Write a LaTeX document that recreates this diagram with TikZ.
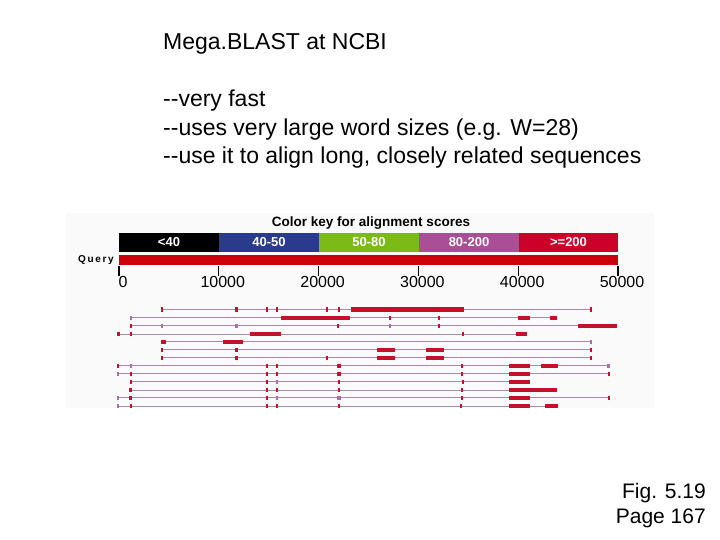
\documentclass[tikz,border=0pt]{standalone}
\usepackage{fontspec}
\setmainfont{Liberation Sans}
\definecolor{kblue}{RGB}{42,58,140}
\definecolor{kgreen}{RGB}{124,186,24}
\definecolor{kpurp}{RGB}{170,78,150}
\definecolor{kred}{RGB}{204,0,40}
\definecolor{qred}{RGB}{204,0,10}
\definecolor{hred}{RGB}{196,16,40}
\definecolor{hline}{RGB}{165,140,175}
\definecolor{hpur}{RGB}{170,110,170}
\tikzset{
 txt/.style={anchor=west,inner sep=0pt,font=\fontsize{23}{27}\selectfont},
 keybox/.style={inner sep=0pt,text=white,font=\bfseries\fontsize{13}{15}\selectfont},
 tick/.style={anchor=north,inner sep=0pt,font=\fontsize{16}{18}\selectfont},
}
\newcommand{\hrow}[4]{% y, start, end, list of segments a/b/color
 \draw[hline,line width=1pt] (#2,#1) -- (#3,#1);
 \foreach \a/\b/\c in {#4} {\fill[\c] (\a,#1-2.2) rectangle (\b,#1+2.2);}
}
\begin{document}
\begin{tikzpicture}[x=1pt,y=-1pt]
\useasboundingbox (0,0) rectangle (720,540);
\node[txt] (t) at (163,44) {Mega.BLAST at NCBI};
\node[txt] (l1) at (163,101) {-{}-very fast};
\node[txt] (l2) at (163,130) {-{}-uses very large word sizes (e.g. W=28)};
\node[txt] (l3) at (163,158) {-{}-use it to align long, closely related sequences};
\node[anchor=east,inner sep=0pt,align=right,font=\fontsize{21}{25}\selectfont] (fig) at (706,506) {Fig. 5.19\\Page 167};
\fill[black!2] (66,213) rectangle (654,408);
\node[inner sep=0pt,font=\bfseries\fontsize{13.5}{15}\selectfont] (ck) at (371,223) {Color key for alignment scores};
\node[keybox,fill=black,minimum width=100pt,minimum height=19pt] (k1) at (169,242.5) {<40};
\node[keybox,fill=kblue,minimum width=100pt,minimum height=19pt] (k2) at (269,242.5) {40-50};
\node[keybox,fill=kgreen,minimum width=100pt,minimum height=19pt] (k3) at (369,242.5) {50-80};
\node[keybox,fill=kpurp,minimum width=100pt,minimum height=19pt] (k4) at (469,242.5) {80-200};
\node[keybox,fill=kred,minimum width=99pt,minimum height=19pt] (k5) at (568.5,242.5) {>=200};
\node[anchor=east,inner sep=0pt,font=\bfseries\fontsize{10}{11}\selectfont] (q) at (114,260) {Q\,u\,e\,r\,y};
\fill[qred] (119,255) rectangle (618,265);
\foreach \i/\v in {0/0,1/10000,2/20000,3/30000,4/40000,5/50000}{
 \draw[line width=1.2pt] ({119+99.8*\i},266) -- ({119+99.8*\i},276);
 \node[tick] (tk\i) at ({123+99.8*\i},276) {\v};
}
\begin{scope}[x=0.3827pt,xshift=60.45pt]
\hrow{309.3}{265}{1386}{262/268/hred,457/463/hred,537/543/hred,563/569/hred,694/700/hred,724/730/hred,760/1055/hred,1383/1389/hred}
\hrow{317.7}{185}{1298}{182/188/hpur,576/757/hred,859/865/hred,987/993/hred,1195/1226/hred,1279/1298/hred}
\hrow{325.7}{185}{1455}{182/188/hred,262/268/hpur,457/463/hpur,722/728/hred,859/865/hpur,987/993/hred,1352/1455/hred}
\hrow{334}{150}{1220}{148/155/hred,182/188/hred,495/575/hred,1049/1055/hred,1190/1220/hred}
\hrow{341.7}{265}{1386}{263/276/hred,424/478/hred,1383/1389/hpur}
\hrow{349.7}{265}{1386}{262/268/hred,457/463/hred,826/875/hred,955/1003/hred,1383/1389/hred}
\hrow{357.7}{265}{1386}{262/268/hred,457/463/hred,694/700/hred,826/875/hred,955/1003/hred,1383/1389/hred}
\hrow{365.7}{150}{1432}{148/153/hred,182/188/hpur,537/543/hred,563/569/hred,722/732/hred,1047/1053/hred,1172/1226/hred,1255/1300/hred,1429/1435/hpur}
\hrow{373.7}{150}{1434}{148/153/hpur,182/188/hred,537/543/hred,563/569/hred,722/732/hred,1047/1053/hred,1172/1226/hred,1431/1437/hred}
\hrow{381.7}{185}{1226}{182/188/hred,537/543/hred,563/569/hpur,724/730/hred,1049/1055/hred,1172/1226/hred}
\hrow{390}{182}{1298}{180/186/hred,537/543/hred,563/569/hred,724/730/hred,1047/1053/hred,1172/1298/hred}
\hrow{397.7}{150}{1434}{148/153/hpur,180/186/hred,537/543/hred,563/569/hpur,722/732/hpur,1047/1053/hred,1172/1226/hred,1431/1437/hred}
\hrow{406}{150}{1300}{148/153/hpur,182/188/hred,537/543/hred,563/569/hred,724/730/hred,1044/1050/hred,1172/1226/hred,1265/1300/hred}
\end{scope}
\end{tikzpicture}
\end{document}
